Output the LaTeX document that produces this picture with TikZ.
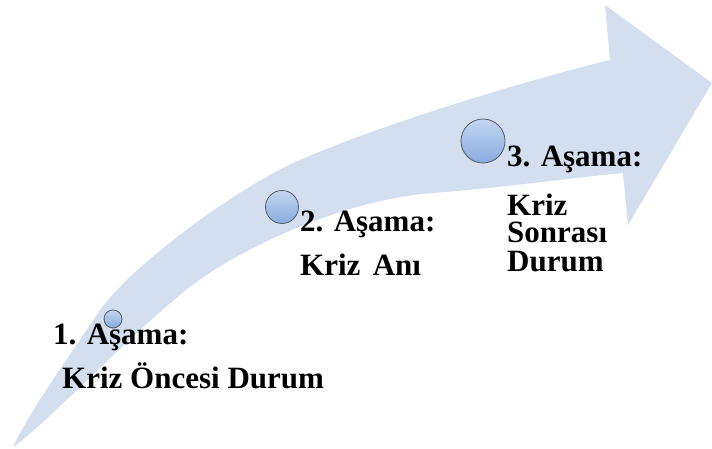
\documentclass[tikz,border=0pt]{standalone}
\usepackage{fontspec}
\setmainfont{Liberation Serif}
\definecolor{bandblue}{RGB}{211,222,239}
\definecolor{ctop}{RGB}{196,214,240}
\definecolor{cbot}{RGB}{135,172,224}
\definecolor{cline}{RGB}{85,90,100}
\begin{document}
\begin{tikzpicture}[x=1pt,y=-1pt,
  stage/.style={circle,draw=cline,line width=0.8pt,top color=ctop,bottom color=cbot,inner sep=0pt},
  lbl/.style={anchor=base west,inner sep=0pt,font=\fontsize{31}{31}\selectfont\bfseries}]
\useasboundingbox (0,0) rectangle (712,449);
% curved arrow
\fill[bandblue] (605,5) -- (712,83) -- (628,225) -- (623,173)
  .. controls (570,178) and (500,188) .. (433,193)
  .. controls (340,200) and (230,252) .. (180,295)
  .. controls (125,340) and (45,425) .. (13,447)
  .. controls (30,410) and (75,348) .. (100,310)
  .. controls (135,262) and (240,186) .. (300,160)
  .. controls (380,125) and (520,82) .. (610,60)
  -- cycle;
% circles
\node[stage,minimum size=18pt] (c1) at (113,319) {};
\node[stage,minimum size=33pt] (c2) at (282,207) {};
\node[stage,minimum size=44pt] (c3) at (483,141) {};
% labels
\node[lbl] (t1a) at (53,344) {1. Aşama:};
\node[lbl] (t1b) at (62,388) {Kriz Öncesi Durum};
\node[lbl] (t2a) at (300,232) {2. Aşama:};
\node[lbl] (t2b) at (300,275) {Kriz\hspace{0.4em}Anı};
\node[lbl] (t3a) at (507,167) {3. Aşama:};
\node[lbl] (t3b) at (507,215) {Kriz};
\node[lbl] (t3c) at (507,243) {Sonrası};
\node[lbl] (t3d) at (507,271) {Durum};
\end{tikzpicture}
\end{document}
